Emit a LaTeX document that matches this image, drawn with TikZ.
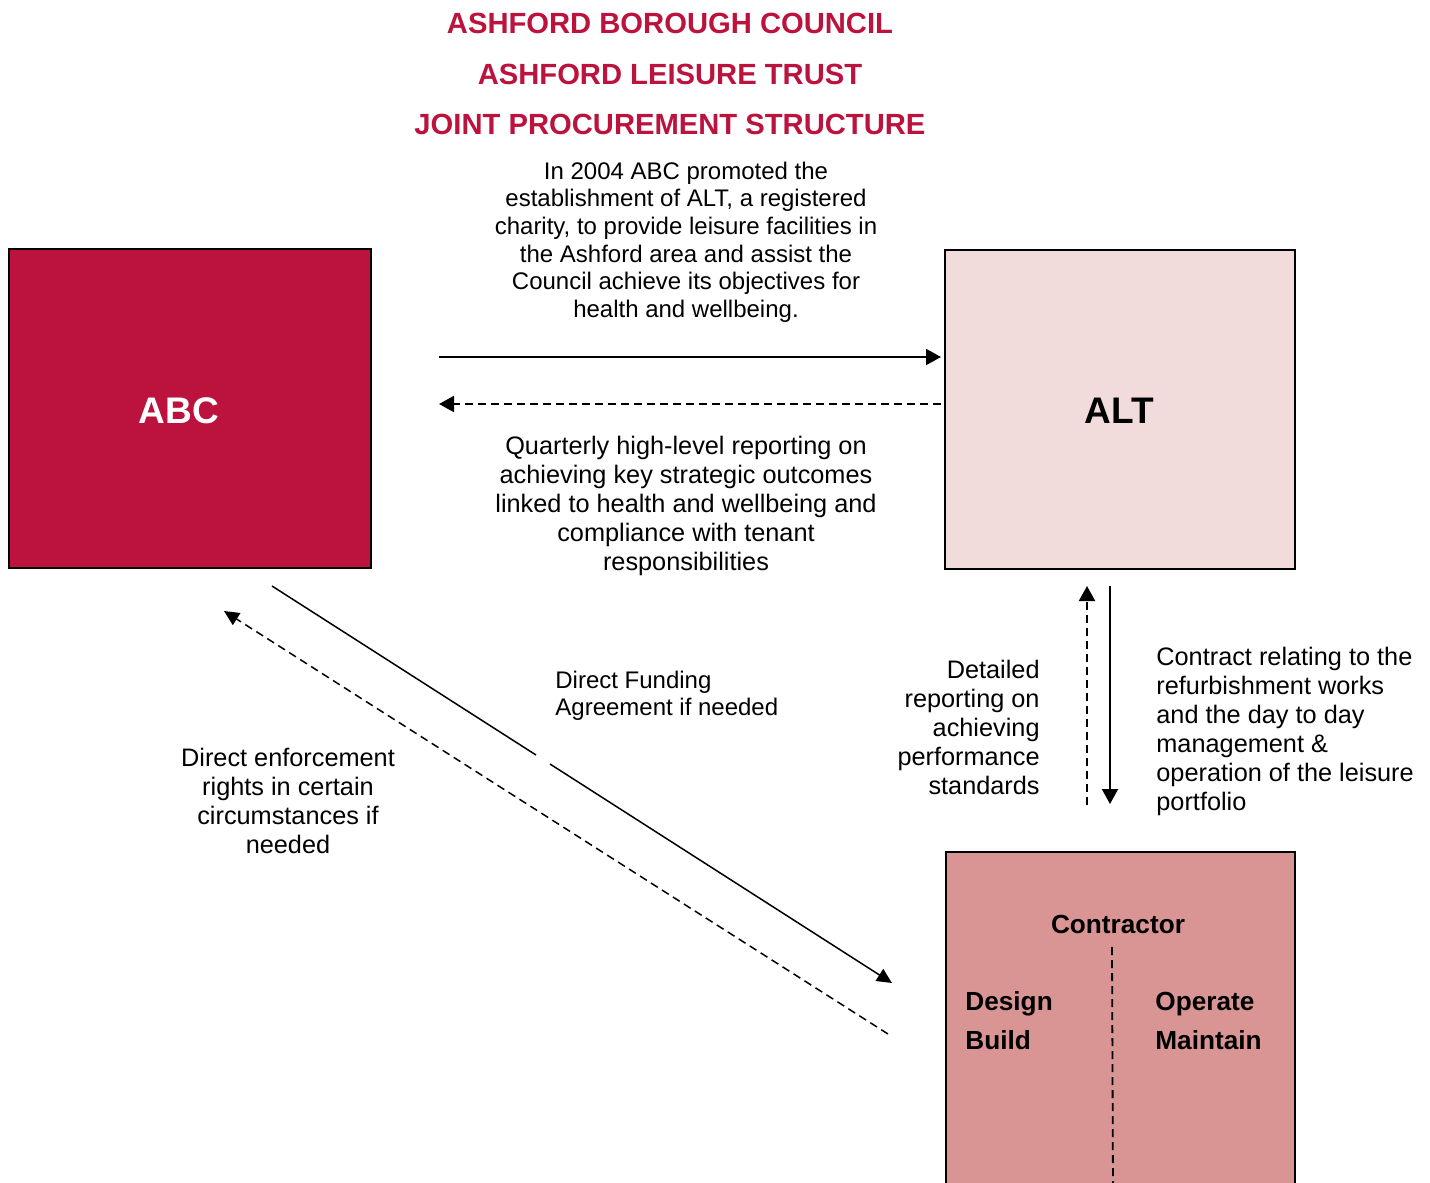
\documentclass[tikz,border=0pt]{standalone}
\usepackage{fontspec}
\setmainfont{Liberation Sans}
\usetikzlibrary{arrows.meta}
\definecolor{crim}{RGB}{187,19,61}
\definecolor{altpink}{RGB}{242,220,219}
\definecolor{conpink}{RGB}{217,149,148}
\tikzset{
  box/.style={draw=black, line width=1pt, inner sep=0pt, anchor=north west},
  body/.style={font=\fontsize{12.65}{14.5}\selectfont, inner sep=0pt},
  titletext/.style={font=\fontsize{14.6}{17}\selectfont\bfseries, text=crim, inner sep=0pt, anchor=base},
  link/.style={line width=1pt, -{Triangle[length=7.5pt,width=8pt]}},
  dlink/.style={link, dash pattern=on 4pt off 2.5pt},
  thinlink/.style={line width=0.75pt, -{Triangle[length=7.5pt,width=7pt]}},
  dthinlink/.style={thinlink, dash pattern=on 4pt off 2.5pt},
  contxt/.style={font=\fontsize{13.1}{19.5}\selectfont\bfseries, inner sep=0pt},
  boxlab/.style={font=\fontsize{18.5}{20}\selectfont\bfseries, inner sep=0pt},
}
\begin{document}
\begin{tikzpicture}[x=0.5pt,y=-0.5pt]
\useasboundingbox (0,0) rectangle (1430,1183);
\clip (0,0) rectangle (1430,1183);

% titles
\node[titletext] (t1) at (670,33) {ASHFORD BOROUGH COUNCIL};
\node[titletext] (t2) at (670,84) {ASHFORD LEISURE TRUST};
\node[titletext] (t3) at (670,134) {JOINT PROCUREMENT STRUCTURE};

% boxes
\node[box, fill=crim, minimum width=181pt, minimum height=159.5pt] (abc) at (8,248) {};
\node[boxlab, text=white] (abclab) at (179,411) {ABC};
\node[box, fill=altpink, minimum width=175pt, minimum height=159.5pt] (alt) at (944,249) {};
\node[boxlab] (altlab) at (1119,411) {ALT};
\node[box, fill=conpink, minimum width=174.5pt, minimum height=200pt] (con) at (945,851) {};

% contractor contents
\node[contxt] (conlab) at (1118,924) {Contractor};
\coordinate (csplit1) at (1112,947);
\coordinate (csplit2) at (1113,1190);
\draw[line width=0.9pt, dash pattern=on 4pt off 2.5pt] (csplit1) -- (csplit2);
\node[contxt, anchor=west, align=left] (db) at (965,1020.5) {Design\\Build};
\node[contxt, anchor=west, align=left] (om) at (1155,1020.5) {Operate\\Maintain};

% top paragraph
\node[body, font=\fontsize{12}{13.8}\selectfont, align=center] (toptxt) at (686,242)
 {In 2004 ABC promoted the\\establishment of ALT, a registered\\charity, to provide leisure facilities in\\the Ashford area and assist the\\Council achieve its objectives for\\health and wellbeing.};

% horizontal arrows
\coordinate (h1s) at (439,357);
\coordinate (h1e) at (941,357);
\draw[link] (h1s) -- (h1e);
\coordinate (h2s) at (941,404);
\coordinate (h2e) at (439,404);
\draw[dlink] (h2s) -- (h2e);

\node[body, align=center] (bottxt) at (686,506)
 {Quarterly high-level reporting on\\achieving key strategic outcomes\\linked to health and wellbeing and\\compliance with tenant\\responsibilities};

% diagonal arrows
\coordinate (d1s) at (272,586);
\coordinate (d1g1) at (536,755);
\coordinate (d1g2) at (550,764);
\coordinate (d1e) at (892,983);
\draw[line width=0.75pt] (d1s) -- (d1g1);
\draw[thinlink] (d1g2) -- (d1e);
\coordinate (d2s) at (888,1034);
\coordinate (d2e) at (224,611);
\draw[dthinlink] (d2s) -- (d2e);

\node[body, font=\fontsize{12}{13.5}\selectfont, align=left, anchor=west] (dfa) at (555,695.5)
 {Direct Funding\\Agreement if needed};
\node[body, align=center] (der) at (288,800.5)
 {Direct enforcement\\rights in certain\\circumstances if\\needed};

% vertical arrows
\coordinate (v1s) at (1087,805);
\coordinate (v1e) at (1087,586);
\draw[dlink] (v1s) -- (v1e);
\coordinate (v2s) at (1110,586);
\coordinate (v2e) at (1110,804);
\draw[link] (v2s) -- (v2e);

\node[body, align=right, anchor=east] (det) at (1040,727)
 {Detailed\\reporting on\\achieving\\performance\\standards};
\node[body, align=left, anchor=west] (ctr) at (1156,731.5)
 {Contract relating to the\\refurbishment works\\and the day to day\\management \&\\operation of the leisure\\portfolio};
\end{tikzpicture}
\end{document}
